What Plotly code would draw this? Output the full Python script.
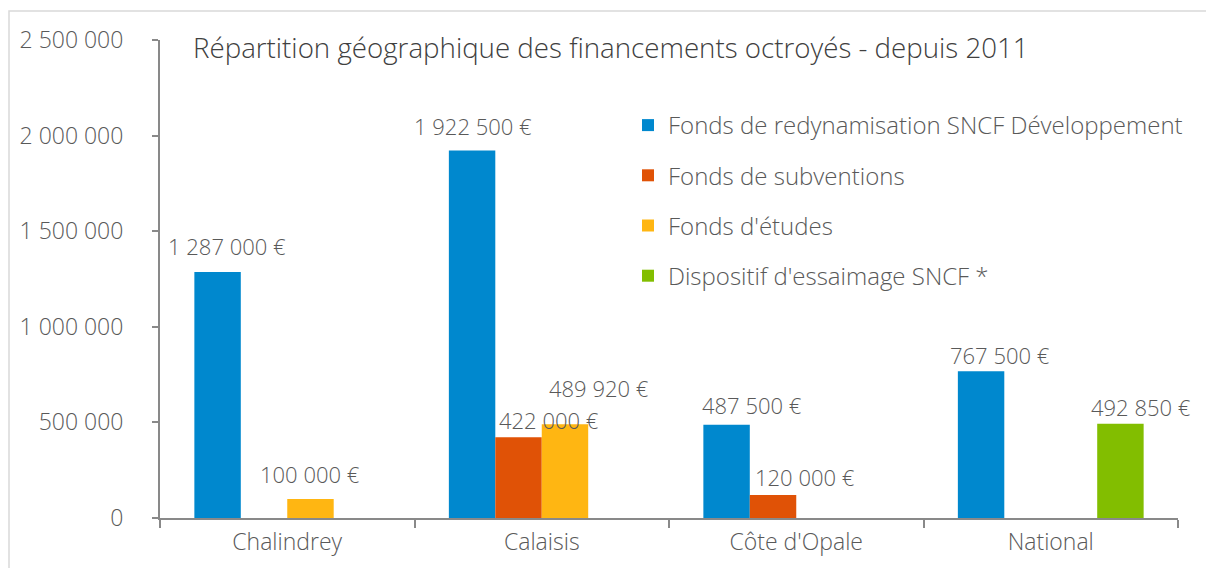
import plotly.graph_objects as go

categories = ["Chalindrey", "Calaisis", "Côte d'Opale", "National"]
series_names = [
    "Fonds de redynamisation SNCF Développement",
    "Fonds de subventions",
    "Fonds d'études",
    "Dispositif d'essaimage SNCF *",
]
fonds_redynamisation = [1287000, 1922500, 487500, 767500]
fonds_subventions = [0, 422000, 120000, 0]
fonds_etudes = [100000, 489920, 0, 0]
essaimage = [0, 0, 0, 492850]
y_tick_vals = [0, 500000, 1000000, 1500000, 2000000, 2500000]
y_tick_text = ["0", "500 000", "1 000 000", "1 500 000", "2 000 000", "2 500 000"]
title_text = "Répartition géographique des financements octroyés - depuis 2011"

series_values = [fonds_redynamisation, fonds_subventions, fonds_etudes, essaimage]
colors = ["#0088CE", "#E05206", "#FFB612", "#82BE00"]

# figure sized so the page (with its 8px body margin) does not scroll
OFF = 8
W, H = 1214 - OFF, 576 - 2 * OFF
PLOT_L, PLOT_R, PLOT_T, PLOT_B = 160, 1178, 40, 518  # page coordinates
ML = PLOT_L - OFF
MR = (W + OFF) - PLOT_R
MT = PLOT_T - OFF
MB = (H + OFF) - PLOT_B
BARGAP = 0.27
plot_w = W - ML - MR
plot_h = H - MT - MB
cat_w = plot_w / len(categories)
bar_w = cat_w * (1 - BARGAP) / len(series_values)

def px_x(page_x):
    return (page_x - OFF - ML) / plot_w

def px_y(page_y):
    return 1 - (page_y - OFF - MT) / plot_h

# manual label nudges (px) as in the original (dx, dy), keyed by (series, category)
nudges = {
    (0, 0): (9, 26), (2, 0): (0, 25),
    (0, 1): (1, 24), (1, 1): (30, 17), (2, 1): (34, 36),
    (0, 2): (25, 20), (1, 2): (32, 18),
    (0, 3): (19, 16), (3, 3): (21, 17),
}

text_color = "#595959"
font_family = "Open Sans, Roboto, sans-serif"
FW = 300

fig = go.Figure()
for name, vals, col in zip(series_names, series_values, colors):
    fig.add_trace(go.Bar(
        x=categories, y=vals, name=name,
        marker=dict(color=col, line=dict(width=0)),
        legendgroup=name,
        hoverinfo="skip",
    ))

def fmt(v):
    return f"{v:,}".replace(",", " ") + " €"

annotations = []
for si, vals in enumerate(series_values):
    for ci, v in enumerate(vals):
        if not v:
            continue
        dx, dy = nudges.get((si, ci), (0, 22))
        annotations.append(dict(
            x=categories[ci], y=v, xref="x", yref="y",
            text=fmt(v), showarrow=False,
            xshift=(si - 1.5) * bar_w + dx, yshift=dy,
            yanchor="middle", xanchor="center",
            font=dict(family=font_family, size=22, color=text_color, weight=FW),
        ))

annotations.append(dict(
    x=px_x(193), y=px_y(47),
    xref="paper", yref="paper", text=title_text, showarrow=False,
    xanchor="left", yanchor="middle", xshift=-2,
    font=dict(family=font_family, size=27.7, color="#404040", weight=FW),
))

fig.update_layout(
    width=W, height=H, autosize=False,
    margin=dict(l=ML, r=MR, t=MT, b=MB),
    paper_bgcolor="white", plot_bgcolor="white",
    barmode="group", bargap=BARGAP, bargroupgap=0,
    annotations=annotations,
    showlegend=True,
    legend=dict(
        x=px_x(628), y=px_y(103),
        xanchor="left", yanchor="top",
        font=dict(family=font_family, size=24, color=text_color, weight=FW),
        tracegroupgap=16, bgcolor="rgba(0,0,0,0)",
        itemwidth=30,
    ),
    shapes=[dict(
        type="rect", xref="paper", yref="paper",
        x0=px_x(9), x1=px_x(1214 + 40),
        y0=px_y(576 + 40), y1=px_y(11),
        line=dict(color="#D9D9D9", width=1.5), layer="below",
    )],
    font=dict(family=font_family, color=text_color),
)
fig.update_xaxes(
    range=[-0.5, len(categories) - 0.5], autorange=False,
    showline=True, linecolor="#898989", linewidth=2,
    ticks="outside", tickson="boundaries", ticklen=8, tickcolor="#898989", tickwidth=1.5,
    tickfont=dict(family=font_family, size=23, color=text_color, weight=FW),
    ticklabelstandoff=2, showgrid=False, zeroline=False,
)
fig.update_yaxes(
    range=[0, 2500000], autorange=False,
    tickvals=y_tick_vals, ticktext=y_tick_text,
    showline=True, linecolor="#898989", linewidth=2,
    ticks="outside", ticklen=6, tickcolor="#898989", tickwidth=1.5,
    tickfont=dict(family=font_family, size=23, color=text_color, weight=FW),
    ticklabelstandoff=24, showgrid=False, zeroline=False,
)

fig.write_html("out.html")
